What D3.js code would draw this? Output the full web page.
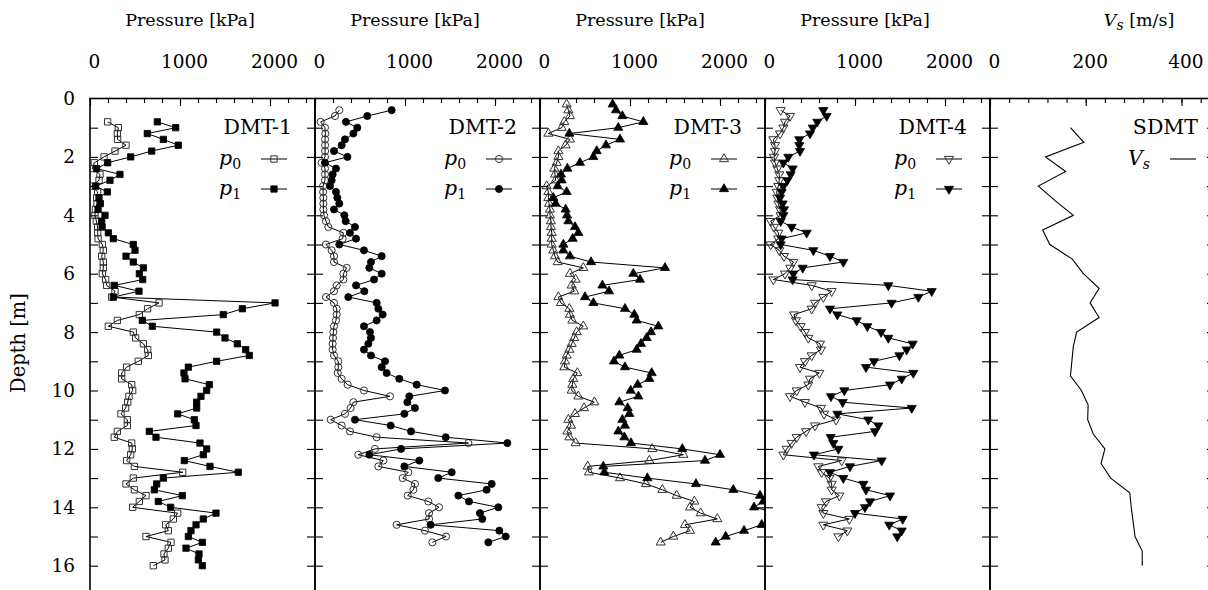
<!DOCTYPE html>
<html><head><meta charset="utf-8">
<script src="https://cdn.jsdelivr.net/npm/d3@7"></script>
<style>
body{margin:0;background:#fff}
svg{display:block}
</style>
</head><body>
<svg id="c" width="1208" height="590"></svg>
<script>
// ---------------- DATA ----------------
const depthDMT1 = [0.8,1.0,1.2,1.4,1.6,1.8,2.0,2.2,2.4,2.6,2.8,3.0,3.2,3.4,3.6,3.8,4.0,4.2,4.4,4.6,4.8,5.0,5.2,5.4,5.6,5.8,6.0,6.2,6.4,6.6,6.8,7.0,7.2,7.4,7.6,7.8,8.0,8.2,8.4,8.6,8.8,9.0,9.2,9.4,9.6,9.8,10.0,10.2,10.4,10.6,10.8,11.0,11.2,11.4,11.6,11.8,12.0,12.2,12.4,12.6,12.8,13.0,13.2,13.4,13.6,13.8,14.0,14.2,14.4,14.6,14.8,15.0,15.2,15.4,15.6,15.8,16.0];
const p0DMT1 = [196,315,304,307,400,278,156,48,26,111,100,18,85,74,78,60,55,70,85,85,90,137,148,130,148,148,137,174,185,278,240,767,640,548,304,204,481,507,593,641,648,537,407,352,352,463,474,433,419,396,344,415,415,304,270,463,470,452,407,493,1030,481,400,493,622,548,474,974,926,841,870,622,900,870,822,833,704];
const p1DMT1 = [748,952,637,815,981,685,452,196,74,333,222,63,193,100,115,90,167,130,135,204,259,481,500,400,481,593,548,585,270,544,259,2056,1693,1481,581,693,1407,1500,1637,1730,1770,1407,1093,1044,1056,1326,1296,1233,1185,1185,974,1159,1178,659,733,1222,1296,1259,1048,1333,1648,815,741,715,1026,759,896,1400,1259,1178,1122,1093,1248,1067,1211,1204,1248];

const depthDMT2 = [0.4,0.6,0.8,1.0,1.2,1.4,1.6,1.8,2.0,2.2,2.4,2.6,2.8,3.0,3.2,3.4,3.6,3.8,4.0,4.2,4.4,4.6,4.8,5.0,5.2,5.4,5.6,5.8,6.0,6.2,6.4,6.6,6.8,7.0,7.2,7.4,7.6,7.8,8.0,8.2,8.4,8.6,8.8,9.0,9.2,9.4,9.6,9.8,10.0,10.2,10.4,10.6,10.8,11.0,11.2,11.4,11.6,11.8,12.0,12.2,12.4,12.6,12.8,13.0,13.2,13.4,13.6,13.8,14.0,14.2,14.4,14.6,14.8,15.0,15.2];
const p0DMT2 = [270,222,63,111,115,112,112,112,111,74,111,111,111,90,90,93,93,93,100,122,148,315,307,122,185,211,211,352,315,315,241,211,122,211,241,241,233,211,204,200,196,196,211,259,259,252,296,363,544,833,426,396,333,174,296,389,685,1704,667,481,759,704,1037,974,1111,1093,1030,1259,1378,1267,1267,907,1222,1456,1304];
const p1DMT2 = [852,581,344,470,426,333,296,211,360,111,233,196,185,167,233,248,270,211,326,341,444,389,456,270,544,741,622,604,741,656,456,548,370,685,704,752,685,544,611,622,593,544,622,778,741,796,937,1130,1444,1048,1026,1111,993,444,841,1067,1452,2137,956,604,1159,993,1519,1370,1963,1907,1593,1711,2037,1833,1859,1285,2048,2119,1926];

const depthDMT3 = [0.2,0.4,0.6,0.8,1.0,1.2,1.4,1.6,1.8,2.0,2.2,2.4,2.6,2.8,3.0,3.2,3.4,3.6,3.8,4.0,4.2,4.4,4.6,4.8,5.0,5.2,5.4,5.6,5.8,6.0,6.2,6.4,6.6,6.8,7.0,7.2,7.4,7.6,7.8,8.0,8.2,8.4,8.6,8.8,9.0,9.2,9.4,9.6,9.8,10.0,10.2,10.4,10.6,10.8,11.0,11.2,11.4,11.6,11.8,12.0,12.2,12.4,12.6,12.8,13.0,13.2,13.4,13.6,13.8,14.0,14.2,14.4,14.6,14.8,15.0,15.2];
const p0DMT3 = [296,315,333,270,241,93,333,285,204,204,185,159,167,174,74,93,93,100,111,111,122,122,130,130,130,148,167,196,481,333,396,352,381,204,233,326,333,359,481,407,381,352,326,296,278,270,415,370,359,352,426,604,489,389,315,344,304,326,396,1248,1593,1215,530,544,889,1178,1359,1519,1715,1667,1785,1970,1611,1667,1481,1341];
const p1DMT3 = [807,844,915,1148,870,326,889,733,630,593,444,304,233,241,196,296,148,174,285,300,315,389,426,363,259,259,333,567,1389,1037,1111,693,767,500,593,944,1048,1074,1315,1233,1185,1122,1074,881,822,944,1241,1215,1085,1007,1093,881,974,993,915,944,870,937,1011,1581,2000,1833,704,715,1193,1733,2148,2444,2481,2378,2650,2600,2463,2267,2063,1952];

const depthDMT4 = [0.4,0.6,0.8,1.0,1.2,1.4,1.6,1.8,2.0,2.2,2.4,2.6,2.8,3.0,3.2,3.4,3.6,3.8,4.0,4.2,4.4,4.6,4.8,5.0,5.2,5.4,5.6,5.8,6.0,6.2,6.4,6.6,6.8,7.0,7.2,7.4,7.6,7.8,8.0,8.2,8.4,8.6,8.8,9.0,9.2,9.4,9.6,9.8,10.0,10.2,10.4,10.6,10.8,11.0,11.2,11.4,11.6,11.8,12.0,12.2,12.4,12.6,12.8,13.0,13.2,13.4,13.6,13.8,14.0,14.2,14.4,14.6,14.8,15.0];
const p0DMT4 = [174,278,222,204,167,93,111,111,100,111,137,159,159,148,130,137,148,167,174,63,100,148,148,63,159,211,315,280,222,93,519,741,648,556,519,322,344,396,444,481,611,622,519,444,389,604,500,481,352,278,444,622,656,789,556,456,352,296,241,204,852,593,630,715,741,741,826,678,630,648,937,648,915,815];
const p1DMT4 = [648,685,581,530,500,381,381,389,259,204,307,285,248,204,185,167,196,211,204,174,296,463,185,174,537,722,870,419,315,307,1370,1852,1704,1407,722,804,1019,1137,1290,1370,1641,1574,1493,1211,1122,1648,1519,1389,881,733,863,1630,804,1148,1259,1222,730,759,815,544,1296,944,722,870,1093,1122,1389,1167,1111,1000,1530,1381,1519,1470];

const depthVs = [1.0,1.5,2.0,2.5,3.0,3.5,4.0,4.5,5.0,5.5,6.0,6.5,7.0,7.5,8.0,8.5,9.0,9.5,10.0,10.5,11.0,11.5,12.0,12.5,13.0,13.5,14.0,14.5,15.0,15.5,16.0];
const vsSDMT = [168,196,116,158,101,136,174,110,125,172,195,228,209,228,181,174,171,168,191,205,204,216,240,232,252,292,295,299,303,318,318];

const pressureTicks = [0,1000,2000];
const vsTicks = [0,200,400];
const depthTicks = [0,2,4,6,8,10,12,14,16];
const panelNames = ["DMT-1","DMT-2","DMT-3","DMT-4","SDMT"];

// ---------------- LAYOUT ----------------
const svg = d3.select("#c");
const FONT = '"DejaVu Serif","Liberation Serif","Noto Serif",serif';
const FS_TITLE = 17.5, FS_TICK = 18.5, FS_LEG = 20.5, FS_SUB = 14, FS_YLAB = 19.5;
const W = 225;
const TOP = 98.5;
const BOT = TOP + 29.2 * 17;
const lefts = [90, 315, 540, 765, 990];
const y = d3.scaleLinear().domain([0, 17]).range([TOP, BOT]);

function styleText(sel, fs) {
  sel.selectAll("text").style("font-family", FONT).style("font-size", fs + "px").attr("fill", "#000");
}
function cleanAxis(sel) { sel.select(".domain").remove(); sel.selectAll("line").attr("stroke", "#000").attr("stroke-width", 1.1); }

const defs = svg.append("defs");

function drawFrame(i, x, majors, minors) {
  const L = lefts[i];
  const g = svg.append("g");
  g.append("g").attr("transform", `translate(0,${TOP})`)
    .call(d3.axisTop(x).tickValues(minors).tickSize(-4.5).tickFormat(""))
    .call(cleanAxis);
  g.append("g").attr("transform", `translate(0,${TOP})`)
    .call(d3.axisTop(x).tickValues(majors).tickSize(-7.5).tickPadding(31).tickFormat(d3.format("d")))
    .call(cleanAxis).call(s => styleText(s, FS_TICK))
    .call(s => s.selectAll("text").attr("dx", 4));
  const dt = d3.range(1, 17);
  g.append("g").attr("transform", `translate(${L},0)`)
    .call(d3.axisRight(y).tickValues(dt).tickSize(8).tickFormat(""))
    .call(cleanAxis);
  g.append("g").attr("transform", `translate(${L + W},0)`)
    .call(d3.axisLeft(y).tickValues(dt).tickSize(8).tickFormat(""))
    .call(cleanAxis);
  g.append("rect").attr("x", L).attr("y", TOP).attr("width", W).attr("height", BOT - TOP)
    .attr("fill", "none").attr("stroke", "#000").attr("stroke-width", 1.6);
  defs.append("clipPath").attr("id", "clip" + i).append("rect")
    .attr("x", L).attr("y", TOP).attr("width", W).attr("height", BOT - TOP);
  return g;
}

const markerDefs = {
  square:  {type: d3.symbolSquare, size: 40, rot: 0},
  circle:  {type: d3.symbolCircle, size: 40, rot: 0},
  tri:     {type: d3.symbolTriangle, size: 36, rot: 0},
  tridown: {type: d3.symbolTriangle, size: 36, rot: 180}
};

function drawMarker(sel, m, filled) {
  const md = markerDefs[m];
  return sel.append("path")
    .attr("d", d3.symbol().type(md.type).size(md.size)())
    .attr("fill", filled ? "#000" : "none")
    .attr("stroke", filled ? "#000" : "#333")
    .attr("stroke-width", filled ? 0.8 : 1.0);
}

function drawSeries(i, x, depth, vals, m, filled) {
  const data = depth.map((d, k) => ({d: d, v: vals[k]}));
  const g = svg.append("g").attr("clip-path", `url(#clip${i})`);
  g.append("path").datum(data)
    .attr("d", d3.line().x(p => x(p.v)).y(p => y(p.d)))
    .attr("fill", "none").attr("stroke", "#000").attr("stroke-width", 1.0);
  const pts = g.selectAll("g.pt").data(data).join("g").attr("class", "pt")
    .attr("transform", p => `translate(${x(p.v)},${y(p.d)}) rotate(${markerDefs[m].rot})`);
  pts.each(function() { drawMarker(d3.select(this), m, filled); });
}

function subText(t, main, sub, italicSub) {
  t.append("tspan").attr("font-style", "italic").text(main);
  t.append("tspan").style("font-size", FS_SUB + "px").attr("dy", 4)
    .attr("font-style", italicSub ? "italic" : "normal").text(sub);
}

function drawLegend(i, m, isVs) {
  const L = lefts[i];
  const g = svg.append("g");
  const rightEdge = isVs ? 1198 : L + 202;
  g.append("text").attr("x", rightEdge).attr("y", 134).attr("text-anchor", "end")
    .style("font-family", FONT).style("font-size", FS_LEG + "px").text(panelNames[i]);
  if (isVs) {
    const t = g.append("text").attr("x", 1128).attr("y", 165)
      .style("font-family", FONT).style("font-size", FS_LEG + "px");
    subText(t, "V", "s", true);
    g.append("line").attr("x1", 1170).attr("x2", 1196).attr("y1", 159).attr("y2", 159)
      .attr("stroke", "#000").attr("stroke-width", 1.1);
    return;
  }
  const rows = [{sub: "0", yy: 159, filled: false}, {sub: "1", yy: 189, filled: true}];
  rows.forEach(r => {
    const t = g.append("text").attr("x", L + 129).attr("y", r.yy + 6)
      .style("font-family", FONT).style("font-size", FS_LEG + "px");
    subText(t, "p", r.sub, false);
    g.append("line").attr("x1", L + 171).attr("x2", L + 197).attr("y1", r.yy).attr("y2", r.yy)
      .attr("stroke", "#000").attr("stroke-width", 1.0);
    const mg = g.append("g").attr("transform", `translate(${L + 184},${r.yy}) rotate(${markerDefs[m].rot})`);
    drawMarker(mg, m, r.filled);
  });
}

// ---------------- PANELS ----------------
const pressureMinor = d3.range(0, 2600, 200);
const dmt = [
  {depth: depthDMT1, p0: p0DMT1, p1: p1DMT1, m: "square"},
  {depth: depthDMT2, p0: p0DMT2, p1: p1DMT2, m: "circle"},
  {depth: depthDMT3, p0: p0DMT3, p1: p1DMT3, m: "tri"},
  {depth: depthDMT4, p0: p0DMT4, p1: p1DMT4, m: "tridown"}
];
dmt.forEach((p, i) => {
  const x = d3.scaleLinear().domain([0, 2500]).range([lefts[i], lefts[i] + W]);
  drawFrame(i, x, pressureTicks, pressureMinor);
  drawSeries(i, x, p.depth, p.p0, p.m, false);
  drawSeries(i, x, p.depth, p.p1, p.m, true);
  drawLegend(i, p.m, false);
  svg.append("text").attr("x", lefts[i] + 100).attr("y", 26).attr("text-anchor", "middle")
    .style("font-family", FONT).style("font-size", FS_TITLE + "px").text("Pressure [kPa]");
});

// Vs panel
const xVs = d3.scaleLinear().domain([0, 470]).range([lefts[4], lefts[4] + W]);
drawFrame(4, xVs, vsTicks, d3.range(0, 471, 40));
{
  const data = depthVs.map((d, k) => ({d: d, v: vsSDMT[k]}));
  svg.append("g").attr("clip-path", "url(#clip4)").append("path").datum(data)
    .attr("d", d3.line().x(p => xVs(p.v)).y(p => y(p.d)))
    .attr("fill", "none").attr("stroke", "#000").attr("stroke-width", 1.1);
}
drawLegend(4, null, true);
{
  const t = svg.append("text").attr("x", 1139).attr("y", 26).attr("text-anchor", "middle")
    .style("font-family", FONT).style("font-size", FS_TITLE + "px");
  subText(t, "V", "s", true);
  t.append("tspan").attr("dy", -4).text(" [m/s]");
}

// Depth axis labels
svg.append("g").attr("transform", `translate(${lefts[0]},0)`)
  .call(d3.axisLeft(y).tickValues(depthTicks).tickSize(0).tickPadding(15).tickFormat(d3.format("d")))
  .call(s => s.select(".domain").remove()).call(s => styleText(s, FS_TICK));
svg.append("text").attr("transform", "translate(25,343) rotate(-90)").attr("text-anchor", "middle")
  .style("font-family", FONT).style("font-size", FS_YLAB + "px").text("Depth [m]");
</script>
</body></html>
